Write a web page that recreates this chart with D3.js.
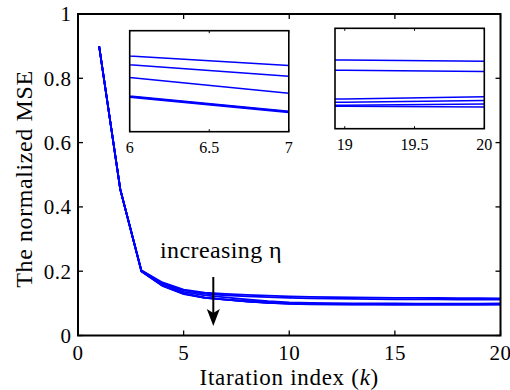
<!DOCTYPE html>
<html><head><meta charset="utf-8">
<script src="https://cdn.jsdelivr.net/npm/d3@7"></script>
<style>body{margin:0;background:#fff}svg{display:block}</style>
</head><body><svg id="c" width="510" height="390" font-family="Liberation Serif"></svg>
<script>
const iterations = [1,2,3,4,5,6,7,8,9,10,11,12,13,14,15,16,17,18,19,20];
const mseEta1 = [0.900,0.455,0.203,0.165,0.143,0.1330,0.1293,0.1262,0.1238,0.1219,0.1204,0.1192,0.1183,0.1176,0.1171,0.1168,0.1166,0.1165,0.1163,0.1157];
const mseEta2 = [0.900,0.455,0.202,0.162,0.140,0.1296,0.1252,0.1218,0.1192,0.1172,0.1157,0.1146,0.1138,0.1131,0.1126,0.1123,0.1121,0.1120,0.1118,0.1113];
const mseEta3 = [0.900,0.455,0.201,0.159,0.136,0.1247,0.1187,0.1120,0.1065,0.1030,0.1012,0.1003,0.0998,0.0996,0.0995,0.0994,0.0994,0.0993,0.0993,0.1002];
const mseEta4 = [0.900,0.455,0.200,0.156,0.131,0.1174,0.1116,0.1065,0.1025,0.0998,0.0985,0.0980,0.0978,0.0977,0.0977,0.0977,0.0978,0.0978,0.0978,0.0986];
const mseEta5 = [0.900,0.455,0.200,0.155,0.130,0.1176,0.1118,0.1062,0.1018,0.0990,0.0976,0.0970,0.0967,0.0966,0.0965,0.0965,0.0965,0.0965,0.0965,0.0971];
const mseEta6 = [0.900,0.455,0.199,0.154,0.129,0.1171,0.1113,0.1058,0.1014,0.0986,0.0972,0.0966,0.0963,0.0962,0.0961,0.0961,0.0961,0.0961,0.0961,0.0958];
const xTicks = [0,5,10,15,20];
const yTicks = [0,0.2,0.4,0.6,0.8,1];
const inset1XTicks = [6,6.5,7];
const inset2XTicks = [19,19.5,20];
const xTitle = "Itaration index (";
const yTitle = "The normalized MSE";
const annotation = "increasing η";

const allSeries = [mseEta1,mseEta2,mseEta3,mseEta4,mseEta5,mseEta6];
const svg = d3.select("#c");
const blue = "#0000ff";

const x = d3.scaleLinear().domain([0,20]).range([78,500.5]);
const y = d3.scaleLinear().domain([0,1]).range([335.5,14]);

function line(xs, ys){ return d3.line().x((d,i)=>xs(iterations[i])).y(d=>ys(d)); }

svg.append("g").selectAll("path").data(allSeries).join("path")
  .attr("d", d=>line(x,y)(d)).attr("fill","none").attr("stroke",blue).attr("stroke-width",1.8);

const ax = svg.append("g").attr("stroke","#000").attr("stroke-width",1.3);
xTicks.forEach(t=>{
  ax.append("line").attr("x1",x(t)).attr("x2",x(t)).attr("y1",y(0)).attr("y2",y(0)-5);
  ax.append("line").attr("x1",x(t)).attr("x2",x(t)).attr("y1",y(1)).attr("y2",y(1)+5);
});
yTicks.forEach(t=>{
  ax.append("line").attr("x1",x(0)).attr("x2",x(0)+5).attr("y1",y(t)).attr("y2",y(t));
  ax.append("line").attr("x1",x(20)).attr("x2",x(20)-5).attr("y1",y(t)).attr("y2",y(t));
});
svg.append("rect").attr("x",x(0)).attr("y",y(1)).attr("width",x(20)-x(0)).attr("height",y(0)-y(1))
  .attr("fill","none").attr("stroke","#000").attr("stroke-width",2);

svg.append("g").selectAll("text").data(xTicks).join("text")
  .attr("x",d=>x(d)).attr("y",359.5).attr("text-anchor","middle").attr("font-size",21).attr("letter-spacing",0.5).text(d=>d);
svg.append("g").selectAll("text").data(yTicks).join("text")
  .attr("x",71.5).attr("y",d=>y(d)+7.3).attr("text-anchor","end").attr("font-size",21).attr("letter-spacing",0.5).text(d=>d);

const xt = svg.append("text").attr("x",x(10)).attr("y",384.5).attr("text-anchor","middle")
  .attr("font-size",23).attr("letter-spacing",0.7);
xt.append("tspan").text(xTitle);
xt.append("tspan").attr("font-style","italic").text("k");
xt.append("tspan").text(")");

svg.append("text").attr("transform",`translate(31.5,179) rotate(-90)`)
  .attr("text-anchor","middle").attr("font-size",24).attr("letter-spacing",0.6).text(yTitle);

svg.append("text").attr("x",160).attr("y",258).attr("font-size",24).attr("letter-spacing",0.4).text(annotation);

const ax0 = 213.3;
svg.append("line").attr("x1",ax0).attr("x2",ax0).attr("y1",277).attr("y2",316).attr("stroke","#000").attr("stroke-width",2);
svg.append("path").attr("d",`M${ax0},326 L${ax0-6.5},309 L${ax0},313 L${ax0+6.5},309 Z`).attr("fill","#000");

function inset(id, x0, x1, y0, y1, xd, yd, ticks){
  const xs = d3.scaleLinear().domain(xd).range([x0,x1]);
  const ys = d3.scaleLinear().domain(yd).range([y1,y0]);
  svg.append("rect").attr("x",x0).attr("y",y0).attr("width",x1-x0).attr("height",y1-y0).attr("fill","#fff");
  svg.append("clipPath").attr("id",id).append("rect").attr("x",x0).attr("y",y0).attr("width",x1-x0).attr("height",y1-y0);
  svg.append("g").attr("clip-path",`url(#${id})`).selectAll("path").data(allSeries).join("path")
    .attr("d", d=>line(xs,ys)(d)).attr("fill","none").attr("stroke",blue).attr("stroke-width",1.5);
  const g = svg.append("g").attr("stroke","#000").attr("stroke-width",1);
  ticks.forEach(t=>{
    g.append("line").attr("x1",xs(t)).attr("x2",xs(t)).attr("y1",y0).attr("y2",y0+2.5);
    g.append("line").attr("x1",xs(t)).attr("x2",xs(t)).attr("y1",y1).attr("y2",y1-2.5);
  });
  svg.append("rect").attr("x",x0).attr("y",y0).attr("width",x1-x0).attr("height",y1-y0)
    .attr("fill","none").attr("stroke","#000").attr("stroke-width",1.6);
  svg.append("g").selectAll("text").data(ticks).join("text")
    .attr("x",d=>xs(d)).attr("y",y1+21).attr("text-anchor","middle").attr("font-size",16).text(d=>d);
}
inset("clip1",129.7,288.8,30.7,131.7,[6,7],[0.1039,0.1427],inset1XTicks);
inset("clip2",335,484.3,28.3,128.7,[18.93,20],[0.0863,0.1301],inset2XTicks);
</script></body></html>
